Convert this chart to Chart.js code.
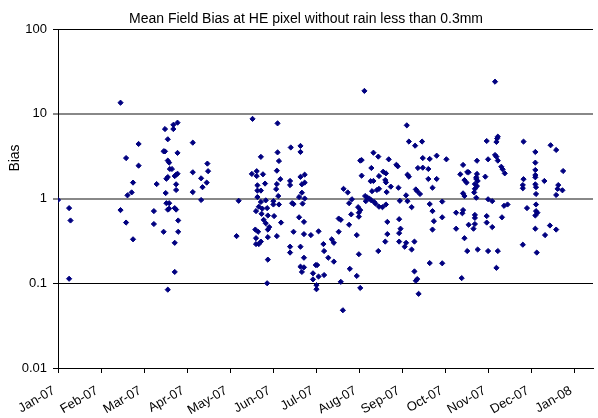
<!DOCTYPE html>
<html>
<head>
<meta charset="utf-8">
<script src="https://cdn.jsdelivr.net/npm/chart.js@4"></script>
<style>
  body { margin: 0; background: #fff; }
</style>
</head>
<body>
<canvas id="myChart" width="598" height="418"></canvas>
<script>
// x values are days after 1 Jan 2007, ticks every 31 days like the original axis
var monthLabels = ["Jan-07", "Feb-07", "Mar-07", "Apr-07", "May-07", "Jun-07", "Jul-07",
                   "Aug-07", "Sep-07", "Oct-07", "Nov-07", "Dec-07", "Jan-08"];
var tickDays = [0, 31, 62, 93, 124, 155, 186, 217, 248, 279, 310, 341, 372];
var yTicks = [0.01, 0.1, 1, 10, 100];

var dayOffsets = [
  45, 0, 8, 9, 8, 49, 58, 58, 54, 53, 50, 45, 49, 54, 71, 69, 69, 77, 83, 83,
  86, 79, 76, 77, 86, 79, 80, 80.5, 82, 78, 79, 84, 85, 86, 85, 85, 77.5, 97, 97, 97,
  78, 80, 79, 80, 84, 85, 86.5, 76, 86.5, 84, 84, 79, 103, 104, 107, 107.5, 108, 103,
  130, 128.5, 140, 158, 146, 158, 159, 167.5, 174.5, 174.5, 139.5, 143, 143, 147.5, 149, 143.5,
  143.5, 146, 143.5, 157.5, 160, 157.5, 157, 158.5, 167, 167, 174.5, 177.5, 177.5, 175.5, 175.5, 173.5,
  177.5, 149.5, 146, 144.5, 147, 150.5, 155, 155, 159, 168.5, 169.5, 176, 142.5, 146.5, 151, 155.5,
  148, 149.5, 152, 151, 160.5, 173.5, 177, 142, 144, 142.5, 151, 157.5, 169.5, 177, 182, 187.5,
  142.5, 144.5, 146, 167, 167, 174.5, 151, 177, 174.5, 177, 175.5, 185.5, 186.5, 183.5, 187.5, 183.5,
  186, 186, 150.5,
  220.5, 251, 252.5, 257, 262, 262.5, 227, 230.5, 217.5, 218.5, 238, 243.5, 244.5, 225.5, 218.5, 234,
  236, 231, 225, 227, 235.5, 236, 239.5, 236.5, 245, 251.5, 252.5, 259, 262.5, 266.5, 267.5, 272.5,
  279.5, 266.5, 272.5, 269.5, 257.5, 258.5, 260.5, 250.5, 229.5, 231, 226, 205.5, 208.5, 211.5, 209.5, 221,
  222.5, 224, 225.5, 227.5, 228.5, 231, 233.5, 236, 221.5, 246, 251.5, 254.5, 267.5, 276.5, 269.5, 270.5,
  276.5, 269.5, 216, 217.5, 216.5, 216.5, 211, 202, 203.5, 209.5, 202, 215, 237, 237, 235.5, 245.5,
  246.5, 245.5, 245.5, 249.5, 250.5, 254.5, 256.5, 230.5, 216.5, 197, 198.5, 191, 191.5, 194.5, 198.5, 191.5,
  203.5, 215, 217.5, 210, 205, 256.5, 257.5, 258.5, 259.5, 267.5, 276.5,
  314.5, 316.5, 315.5, 316, 308.5, 335, 354.5, 358.5, 343.5, 343.5, 343.5, 343.5, 343.5, 350, 363.5, 335,
  334.5, 334.5, 343.5, 344, 360, 359.5, 363, 358.5, 344, 291.5, 301.5, 309.5, 314.5, 315.5, 316.5, 319,
  320, 321.5, 289.5, 294.5, 295.5, 292.5, 294, 301.5, 301, 301, 302, 300, 301.5, 300, 299.5, 301,
  307.5, 291.5, 292.5, 309.5, 312.5, 321, 323.5, 337.5, 344, 344, 345, 343.5, 286.5, 291, 291.5, 300,
  300, 308.5, 319.5, 295.5, 299, 300, 308.5, 312.5, 286.5, 292.5, 343.5, 354, 358.5, 350.5, 334.5, 344.5,
  294.5, 302, 309.5, 316.5, 315.5, 290.5
];

var biasValues = [
  13.5, 0.96, 0.77, 0.55, 0.113, 3.0, 4.4, 2.44, 1.54, 1.18, 1.09, 0.73, 0.52, 0.33, 1.48, 0.71, 0.50, 6.6, 7.4, 6.6,
  7.85, 5.0, 3.6, 3.6, 3.45, 2.8, 2.65, 2.23, 2.23, 1.71, 1.79, 1.84, 1.91, 1.96, 1.47, 1.26, 1.16, 4.56, 2.04, 1.19,
  0.88, 0.88, 0.74, 0.76, 0.77, 0.74, 0.55, 0.405, 0.405, 0.30, 0.136, 0.084, 1.73, 1.36, 1.54, 2.58, 2.1, 0.96,
  0.94, 0.36, 8.7, 7.7, 3.1, 3.5, 2.77, 4.0, 4.17, 3.54, 1.95, 2.1, 1.84, 1.93, 1.5, 1.43,
  1.24, 1.24, 1.04, 2.13, 1.69, 1.48, 1.29, 1.07, 1.61, 1.44, 1.8, 1.91, 1.54, 1.47, 1.17, 1.04,
  1.0, 0.95, 0.91, 0.8, 0.76, 0.77, 0.93, 0.85, 0.85, 0.88, 0.86, 0.87, 0.71, 0.66, 0.63, 0.62,
  0.56, 0.51, 0.46, 0.43, 0.52, 0.6, 0.53, 0.43, 0.405, 0.34, 0.35, 0.36, 0.405, 0.38, 0.37, 0.41,
  0.29, 0.29, 0.31, 0.27, 0.23, 0.27, 0.19, 0.20, 0.157, 0.154, 0.136, 0.164, 0.164, 0.131, 0.12, 0.111,
  0.095, 0.085, 0.10,
  18.6, 7.3, 4.7, 4.2, 4.7, 3.0, 3.47, 3.12, 2.8, 2.84, 2.9, 2.5, 2.4, 2.29, 1.86, 2.07,
  1.98, 1.84, 1.6, 1.61, 1.65, 1.55, 1.38, 1.19, 1.34, 1.91, 1.81, 2.29, 2.31, 2.23, 2.93, 3.2,
  2.9, 1.7, 1.7, 1.34, 1.28, 1.22, 1.13, 1.09, 1.26, 1.3, 1.22, 1.3, 1.18, 0.98, 0.88, 1.07,
  1.03, 1.0, 0.95, 0.91, 0.87, 0.8, 0.79, 0.85, 0.93, 0.94, 0.93, 0.79, 0.86, 0.92, 0.71, 0.54,
  0.6, 0.43, 0.79, 0.73, 0.68, 0.61, 0.65, 0.58, 0.56, 0.49, 0.405, 0.37, 0.53, 0.38, 0.31, 0.57,
  0.44, 0.39, 0.31, 0.27, 0.30, 0.25, 0.31, 0.24, 0.22, 0.33, 0.30, 0.29, 0.24, 0.20, 0.18, 0.125,
  0.104, 0.122, 0.088, 0.148, 0.048, 0.138, 0.107, 0.112, 0.075, 0.173, 0.172,
  23.9, 5.37, 4.65, 5.1, 4.77, 4.69, 4.25, 3.74, 3.54, 2.65, 2.17, 1.89, 1.78, 1.61, 2.11, 1.69,
  1.44, 1.32, 1.47, 1.36, 1.44, 1.3, 1.25, 1.1, 1.13, 2.49, 2.79, 2.9, 3.26, 3.12, 2.8, 2.37,
  2.21, 1.98, 1.93, 2.05, 2.04, 1.65, 1.54, 1.95, 1.78, 1.7, 1.61, 1.48, 1.4, 1.3, 1.18, 1.02,
  1.81, 1.15, 1.07, 0.98, 0.93, 0.82, 0.85, 0.77, 0.85, 0.71, 0.68, 0.63, 0.68, 0.67, 0.73, 0.64,
  0.59, 0.62, 0.6, 0.49, 0.44, 0.5, 0.52, 0.46, 0.44, 0.34, 0.44, 0.48, 0.43, 0.37, 0.285, 0.23,
  0.24, 0.25, 0.24, 0.24, 0.152, 0.115
];

var points = [];
for (let i = 0; i < dayOffsets.length; i++) {
    points.push({ x: dayOffsets[i], y: biasValues[i] });
}

Chart.defaults.font.family = '"Liberation Sans", Arial, sans-serif';
Chart.defaults.color = '#000';

// title and the y axis caption sit where the original put them
var textPlugin = {
    id: 'chartText',
    afterDraw(chart) {
        const c = chart.ctx;
        c.save();
        c.fillStyle = '#000';
        c.font = '14px "Liberation Sans", Arial, sans-serif';
        c.textAlign = 'center';
        c.textBaseline = 'middle';
        c.fillText('Mean Field Bias at HE pixel without rain less than 0.3mm', 306, 19);
        c.translate(15, 158);
        c.rotate(-Math.PI / 2);
        c.fillText('Bias', 0, 0);
        c.restore();
    }
};

var ctx = document.getElementById('myChart');
var chart = new Chart(ctx, {
    type: 'scatter',
    data: {
        datasets: [{
            label: 'Bias',
            data: points,
            backgroundColor: '#000080',
            borderColor: '#000080',
            pointStyle: 'rectRot',
            pointRadius: 2.6,
            borderWidth: 1,
            showLine: false
        }]
    },
    options: {
        responsive: false,
        animation: false,
        devicePixelRatio: 1,
        layout: { padding: { top: 29, left: 0, right: 0, bottom: 0 } },
        scales: {
            x: {
                type: 'linear',
                min: 0,
                max: 385,
                afterBuildTicks: (scale) => { scale.ticks = tickDays.map(v => ({ value: v })); },
                afterFit: (scale) => { scale.height = 50; },
                ticks: {
                    autoSkip: false,
                    minRotation: 30,
                    maxRotation: 30,
                    padding: 10,
                    labelOffset: -4,
                    font: { size: 13 },
                    callback: (v) => monthLabels[tickDays.indexOf(v)]
                },
                grid: { drawOnChartArea: false, drawTicks: true, tickLength: 5, color: '#000' },
                border: { color: '#000' }
            },
            y: {
                type: 'logarithmic',
                min: 0.01,
                max: 100,
                afterBuildTicks: (scale) => { scale.ticks = yTicks.map(v => ({ value: v })); },
                afterFit: (scale) => { scale.width = 58; },
                ticks: {
                    padding: 6,
                    font: { size: 13 },
                    callback: (v) => String(v)
                },
                grid: {
                    tickLength: 5,
                    color: (c) => (c.tick && (c.tick.value === 10 || c.tick.value === 1)) ? '#888' : '#000',
                    lineWidth: (c) => (c.tick && (c.tick.value === 10 || c.tick.value === 1)) ? 2 : 1
                },
                border: { color: '#000' }
            }
        },
        plugins: {
            legend: { display: false },
            tooltip: { enabled: false },
            title: { display: false }
        }
    },
    plugins: [textPlugin]
});
</script>
</body>
</html>
